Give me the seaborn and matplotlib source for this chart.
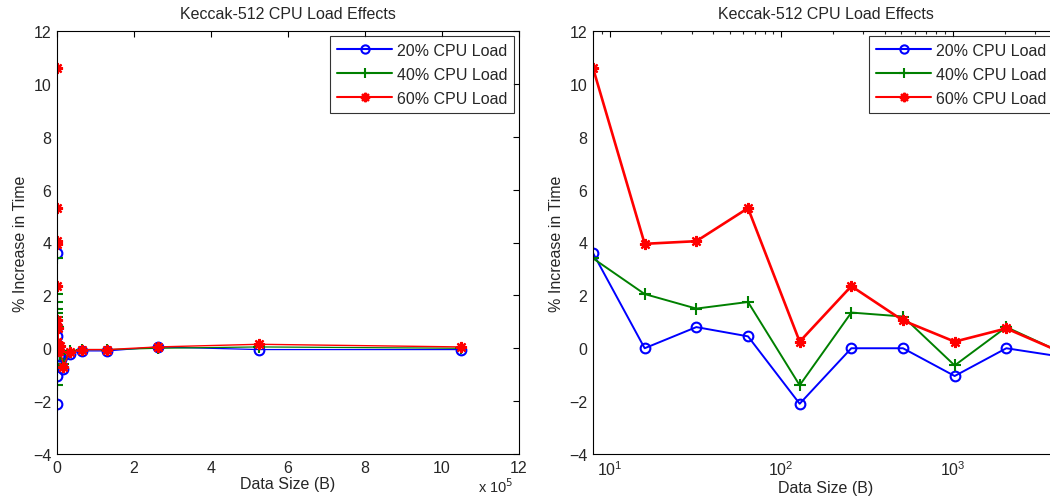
import numpy as np
import pandas as pd
import matplotlib
matplotlib.use("Agg")
import matplotlib.pyplot as plt
from matplotlib.ticker import FuncFormatter, FixedLocator, LogLocator, NullFormatter
from matplotlib.lines import Line2D
import seaborn as sns

# ---- data ----
data_size = [8, 16, 32, 64, 128, 256, 512, 1024, 2048, 4096, 8192, 16384,
             32768, 65536, 131072, 262144, 524288, 1048576]
load_20 = [3.6, 0.0, 0.8, 0.45, -2.1, 0.0, 0.0, -1.05, 0.0, -0.3, -0.3, -0.8,
           -0.2, -0.1, -0.1, 0.05, -0.05, -0.05]
load_40 = [3.4, 2.05, 1.5, 1.75, -1.4, 1.35, 1.2, -0.65, 0.8, -0.1, -0.2, -0.6,
           -0.1, -0.05, -0.05, 0.0, 0.05, 0.0]
load_60 = [10.6, 3.95, 4.05, 5.3, 0.25, 2.35, 1.05, 0.25, 0.75, -0.1, 0.1, -0.7,
           -0.15, -0.05, -0.05, 0.05, 0.15, 0.05]
series_labels = ["20% CPU Load", "40% CPU Load", "60% CPU Load"]
title = "Keccak-512 CPU Load Effects"
x_label = "Data Size (B)"
y_label = "% Increase in Time"

df = pd.DataFrame({"size": data_size * 3,
                   "pct": load_20 + load_40 + load_60,
                   "load": [series_labels[0]] * len(data_size)
                           + [series_labels[1]] * len(data_size)
                           + [series_labels[2]] * len(data_size)})

sns.set_style("white")
plt.rcParams['font.family'] = ['Liberation Sans', 'DejaVu Sans']
FS = 11.5

colors = {series_labels[0]: (0, 0, 1), series_labels[1]: (0, 0.5, 0), series_labels[2]: (1, 0, 0)}
markers = {series_labels[0]: "o", series_labels[1]: "+", series_labels[2]: (8, 2, 0)}
msize = {series_labels[0]: 7, series_labels[1]: 8, series_labels[2]: 8}
mew = {series_labels[0]: 1.5, series_labels[1]: 1.5, series_labels[2]: 1.6}

fig = plt.figure(figsize=(10.5, 5.02), dpi=100)
ax1 = fig.add_axes([57 / 1050, 47 / 502, 462 / 1050, 423 / 502])
ax2 = fig.add_axes([593 / 1050, 47 / 502, 465 / 1050, 423 / 502])

def draw(ax, lws):
    for lab in series_labels:
        sub = df[df["load"] == lab]
        c = colors[lab]
        sns.lineplot(data=sub, x="size", y="pct", ax=ax, color=c,
                     linewidth=lws[lab], marker=markers[lab], markersize=msize[lab],
                     markeredgecolor=c, markeredgewidth=mew[lab],
                     markerfacecolor=("none" if lab == series_labels[0] else c),
                     legend=False, estimator=None, sort=True, clip_on=True)

draw(ax1, {series_labels[0]: 0.9, series_labels[1]: 0.9, series_labels[2]: 1.0})
draw(ax2, {series_labels[0]: 1.4, series_labels[1]: 1.4, series_labels[2]: 1.9})

for ax in (ax1, ax2):
    ax.set_ylim(-4, 12)
    ax.set_yticks(np.arange(-4, 13, 2))
    ax.tick_params(direction="in", top=True, right=True, labelsize=FS,
                   length=4, width=0.8, color="black", pad=4)
    ax.tick_params(which="minor", direction="in", top=True, right=True, length=2.5, width=0.8)
    for s in ax.spines.values():
        s.set_color("black")
        s.set_linewidth(0.8)
    ax.set_title(title, fontsize=FS, pad=9)
    ax.set_xlabel(x_label, fontsize=FS, labelpad=1)
    ax.set_ylabel(y_label, fontsize=FS, labelpad=4)
    handles = [Line2D([], [], color=colors[l], marker=markers[l], markersize=msize[l] * 0.85,
                      markeredgecolor=colors[l], markeredgewidth=mew[l],
                      markerfacecolor=("none" if l == series_labels[0] else colors[l]),
                      linewidth=1.5) for l in series_labels]
    leg = ax.legend(handles, series_labels, loc="upper right", fontsize=FS,
                    handlelength=3.4, frameon=True, fancybox=False,
                    borderaxespad=0.3, labelspacing=0.55, handletextpad=0.3,
                    borderpad=0.45)
    leg.get_frame().set_edgecolor("black")
    leg.get_frame().set_linewidth(0.8)

# left axis: linear scale, x 10^5
ax1.set_xlim(0, 1.2e6)
ax1.xaxis.set_major_locator(FixedLocator(np.arange(0, 1.21e6, 2e5)))
ax1.xaxis.set_major_formatter(FuncFormatter(lambda v, p: f"{v / 1e5:g}"))
ax1.text(1.0 - 6 / 462, -0.076, r"x 10$^5$", transform=ax1.transAxes,
         ha="right", va="center", fontsize=FS - 1)

# right axis: log scale
ax2.set_xscale("log")
ax2.set_xlim(8, 4096)
ax2.xaxis.set_major_locator(LogLocator(base=10, numticks=10))
ax2.xaxis.set_minor_locator(LogLocator(base=10, subs=np.arange(2, 10), numticks=20))
ax2.xaxis.set_minor_formatter(NullFormatter())

fig.savefig("out.png", dpi=100)
